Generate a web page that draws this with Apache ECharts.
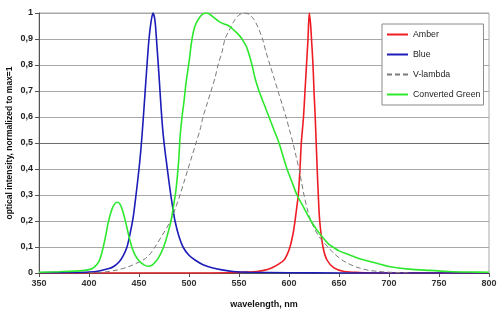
<!DOCTYPE html>
<html>
<head>
<meta charset="utf-8">
<script src="https://cdn.jsdelivr.net/npm/echarts@6/dist/echarts.min.js"></script>
<style>
  html, body { margin: 0; padding: 0; background: #fff; }
  #chart { width: 500px; height: 322px; }
</style>
</head>
<body>
<div id="chart"></div>
<script>
// Spectra of the LED sources, each normalised to its own maximum.
const seriesNames = ['Amber', 'Blue', 'V-lambda', 'Converted Green'];

const amberNm  = [350, 500, 540, 560, 568, 575, 583, 590, 595, 598, 601, 604, 606, 608, 609.3, 611, 612.3, 614.5, 616, 617.5, 619, 620.3, 621.5, 622.5, 624, 625, 626.2, 627.2, 628.2, 629.3, 630.7, 634, 638, 645, 655, 670, 700, 800];
const amberVal = [0, 0, 0.001, 0.004, 0.006, 0.01, 0.02, 0.035, 0.05, 0.07, 0.1, 0.15, 0.2, 0.26, 0.3, 0.4, 0.5, 0.6, 0.7, 0.8, 0.9, 1.0, 0.96, 0.9, 0.8, 0.7, 0.6, 0.5, 0.4, 0.3, 0.2, 0.1, 0.05, 0.02, 0.006, 0.002, 0, 0];

const blueNm  = [350, 380, 400, 410, 420, 425, 430, 434, 438, 441, 444, 447, 450, 452, 454, 456, 458, 460, 462, 464, 466, 468, 470, 472, 474, 476, 478, 480, 482, 484, 486, 490, 494, 500, 506, 514, 523, 533, 544, 560, 600, 650, 800];
const blueVal = [0.001, 0.002, 0.004, 0.008, 0.017, 0.026, 0.042, 0.065, 0.1, 0.15, 0.21, 0.3, 0.4, 0.48, 0.58, 0.69, 0.8, 0.9, 0.965, 1.0, 0.97, 0.87, 0.76, 0.64, 0.54, 0.47, 0.41, 0.35, 0.295, 0.245, 0.2, 0.14, 0.1, 0.068, 0.05, 0.032, 0.02, 0.012, 0.006, 0.003, 0.001, 0, 0];

const vlambdaNm  = [400, 410, 420, 430, 440, 450, 455, 460, 466, 474, 481.5, 486.5, 491, 495, 499, 503, 507, 511, 514, 518, 522, 526, 529, 533, 536, 541, 546, 551, 555.5, 560, 565, 569, 573.5, 577, 581, 585, 589, 593, 597, 600.5, 604, 607, 610, 612.5, 615, 618, 622, 630, 639, 645, 653, 660, 668, 680, 690, 700, 720];
const vlambdaVal = [0.0004, 0.002, 0.006, 0.013, 0.025, 0.042, 0.052, 0.068, 0.1, 0.15, 0.2, 0.25, 0.3, 0.35, 0.4, 0.45, 0.5, 0.55, 0.6, 0.65, 0.7, 0.75, 0.8, 0.85, 0.9, 0.94, 0.975, 0.995, 1.0, 0.995, 0.975, 0.945, 0.9, 0.85, 0.8, 0.75, 0.7, 0.65, 0.6, 0.55, 0.5, 0.45, 0.4, 0.35, 0.3, 0.25, 0.2, 0.14, 0.1, 0.075, 0.05, 0.035, 0.022, 0.01, 0.006, 0.003, 0.001];

const greenNm  = [350, 370, 390, 400, 405, 410, 413, 416, 419, 422, 425, 428, 431, 434, 437, 440, 443, 446, 450, 455, 459, 463, 467, 470, 473, 476, 479, 482, 485, 487, 489, 490, 491, 493, 495, 497, 500, 503, 506, 510, 514, 517, 520, 525, 530, 535, 540, 546, 550, 553, 558, 563, 566, 570, 575, 580, 585, 590, 594, 598, 603, 608, 615, 622, 628, 633, 640, 644, 650, 660, 670, 680, 690, 700, 720, 740, 760, 780, 800];
const greenVal = [0.003, 0.005, 0.008, 0.013, 0.022, 0.045, 0.08, 0.13, 0.19, 0.235, 0.262, 0.272, 0.265, 0.235, 0.19, 0.14, 0.098, 0.07, 0.047, 0.031, 0.026, 0.03, 0.045, 0.062, 0.085, 0.115, 0.155, 0.2, 0.27, 0.32, 0.4, 0.45, 0.52, 0.6, 0.66, 0.73, 0.81, 0.9, 0.95, 0.98, 0.997, 1.0, 0.997, 0.982, 0.967, 0.958, 0.95, 0.93, 0.915, 0.9, 0.865, 0.8, 0.75, 0.7, 0.65, 0.6, 0.55, 0.5, 0.45, 0.4, 0.35, 0.3, 0.25, 0.2, 0.165, 0.14, 0.11, 0.1, 0.085, 0.07, 0.056, 0.045, 0.035, 0.025, 0.015, 0.01, 0.006, 0.004, 0.003];

const xTicks = [350, 400, 450, 500, 550, 600, 650, 700, 750, 800];
const yTicks = [0, 0.1, 0.2, 0.3, 0.4, 0.5, 0.6, 0.7, 0.8, 0.9, 1];

const pairs = (xs, ys) => xs.map((x, i) => [x, ys[i]]);

const FONT = '"Liberation Sans", Arial, sans-serif';
const chart = echarts.init(document.getElementById('chart'), null, { renderer: 'canvas' });

// gridline colours: the 0,5 line is drawn darker than the rest
const splitColors = yTicks.map(v => (Math.abs(v - 0.5) < 1e-9 ? '#6e6e6e' : '#a8a8a8'));

chart.setOption({
  backgroundColor: '#ffffff',
  animation: false,
  textStyle: { fontFamily: FONT },
  grid: {
    left: 39, right: 11, top: 13, bottom: 49,
    containLabel: false, outerBoundsMode: 'none',
    show: true, borderColor: '#a8a8a8', borderWidth: 1, backgroundColor: 'transparent'
  },
  legend: {
    orient: 'vertical',
    left: 382, top: 24,
    padding: [6, 3, 6, 4],
    itemGap: 11,
    itemWidth: 21, itemHeight: 10,
    itemTextGap: 2,
    backgroundColor: '#ffffff',
    borderColor: '#8a8a8a', borderWidth: 1, borderRadius: 0,
    itemStyle: { opacity: 0 },
    textStyle: { fontFamily: FONT, fontSize: 8.8, color: '#222' },
    data: seriesNames
  },
  xAxis: {
    type: 'value',
    min: xTicks[0], max: xTicks[xTicks.length - 1], interval: 50,
    name: 'wavelength, nm',
    nameLocation: 'middle', nameGap: 27,
    nameTextStyle: { fontFamily: FONT, fontSize: 9, fontWeight: 'bold', color: '#111' },
    axisLine: { show: true, onZero: false, lineStyle: { color: '#555', width: 1 } },
    axisTick: { show: true, length: 4, lineStyle: { color: '#555' } },
    axisLabel: { fontFamily: FONT, fontSize: 9, fontWeight: 'bold', color: '#333', margin: 6 },
    splitLine: { show: false }
  },
  yAxis: {
    type: 'value',
    min: 0, max: 1, interval: 0.1,
    name: 'optical intensity, normalized to max=1',
    nameLocation: 'middle', nameGap: 25, nameRotate: 90,
    nameMoveOverlap: false,
    nameTextStyle: { fontFamily: FONT, fontSize: 8.5, fontWeight: 'bold', color: '#111' },
    axisLine: { show: true, lineStyle: { color: '#555', width: 1 } },
    axisTick: { show: true, length: 4, lineStyle: { color: '#555' } },
    axisLabel: {
      fontFamily: FONT, fontSize: 9, fontWeight: 'bold', color: '#222', margin: 6,
      formatter: v => {
        const r = Math.round(v * 10) / 10;
        if (r === 0) return '0';
        if (r === 1) return '1';
        return r.toFixed(1).replace('.', ',');
      }
    },
    splitLine: { show: true, lineStyle: { color: splitColors, width: 1 } }
  },
  series: [
    {
      name: 'Amber', type: 'line', data: pairs(amberNm, amberVal),
      symbol: 'none', smooth: 0.3, color: '#ee1c24',
      lineStyle: { width: 1.6, color: '#ee1c24' }, z: 2
    },
    {
      name: 'Blue', type: 'line', data: pairs(blueNm, blueVal),
      symbol: 'none', smooth: 0.3, color: '#1c1cb8',
      lineStyle: { width: 1.6, color: '#1c1cb8' }, z: 3
    },
    {
      name: 'V-lambda', type: 'line', data: pairs(vlambdaNm, vlambdaVal),
      symbol: 'none', smooth: 0.3, color: '#7a7a7a',
      lineStyle: { width: 1, color: '#7a7a7a', type: [5, 3] }, z: 4
    },
    {
      name: 'Converted Green', type: 'line', data: pairs(greenNm, greenVal),
      symbol: 'none', smooth: 0.3, color: '#2ee82e',
      lineStyle: { width: 1.6, color: '#2ee82e' }, z: 5
    }
  ]
});
</script>
</body>
</html>
